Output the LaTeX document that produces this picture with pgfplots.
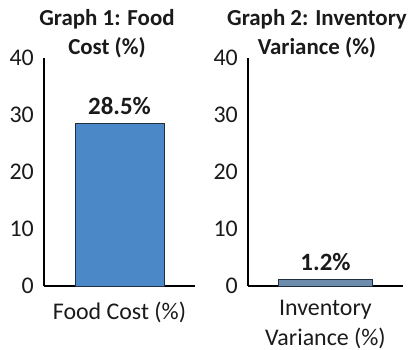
\documentclass[border=0pt]{standalone}
\usepackage{fontspec}
\setmainfont{Carlito}
\usepackage{pgfplots}
\pgfplotsset{compat=1.18}

\definecolor{barblue}{HTML}{4A88C7}
\definecolor{bargrey}{HTML}{6E8DAD}
\definecolor{baredge}{HTML}{1F2F40}
\definecolor{txt}{HTML}{1A1A1A}

\pgfplotsset{
  panel/.style={
    scale only axis,
    height=228bp,
    ymin=0, ymax=40,
    ytick={0,10,20,30,40},
    xmin=0, xmax=1,
    xtick={0.5},
    axis x line=bottom,
    axis y line=left,
    axis line style={-, line width=1.4bp, black},
    major tick length=0pt,
    /pgf/number format/assume math mode=true,
    tick label style={font=\fontsize{24}{30}\selectfont, text=txt},
    yticklabel style={anchor=east, inner sep=0pt, xshift=-10bp},
    xticklabel style={anchor=north, inner sep=0pt, align=center},
    title style={font=\bfseries\fontsize{23}{28.5}\selectfont, text=txt,
                 align=center, anchor=south, inner sep=0pt},
    nodes near coords={\pgfmathprintnumber[fixed,precision=1]{\pgfplotspointmeta}\%},
    nodes near coords style={font=\bfseries\fontsize{25}{28}\selectfont,
                             text=txt, anchor=south, inner sep=0pt, yshift=8bp},
    clip=false,
  }
}

\begin{document}
\begin{tikzpicture}
\useasboundingbox (0,0) rectangle (411bp,350bp);

% Graph 1: food cost
\begin{axis}[panel,
  at={(44bp,64bp)}, anchor=south west,
  width=151bp,
  xticklabels={Food Cost (\%)},
  xticklabel style={yshift=-16bp},
  title={Graph 1: Food\\Cost (\%)},
  title style={at={(0.417,1)}, yshift=-6bp},
]
\addplot[ybar, bar width=89bp, fill=barblue, draw=baredge, line width=0.9bp]
  coordinates {(0.5,28.5)};
\end{axis}

% Graph 2: inventory variance
\begin{axis}[panel,
  at={(248bp,64bp)}, anchor=south west,
  width=155bp,
  xticklabels={Inventory\\Variance (\%)},
  xticklabel style={yshift=-14bp},
  title={Graph 2: Inventory\\Variance (\%)},
  title style={at={(0.445,1)}, yshift=-6bp},
]
\addplot[ybar, bar width=94bp, fill=bargrey, draw=baredge, line width=0.9bp]
  coordinates {(0.5,1.2)};
\end{axis}
\end{tikzpicture}
\end{document}
